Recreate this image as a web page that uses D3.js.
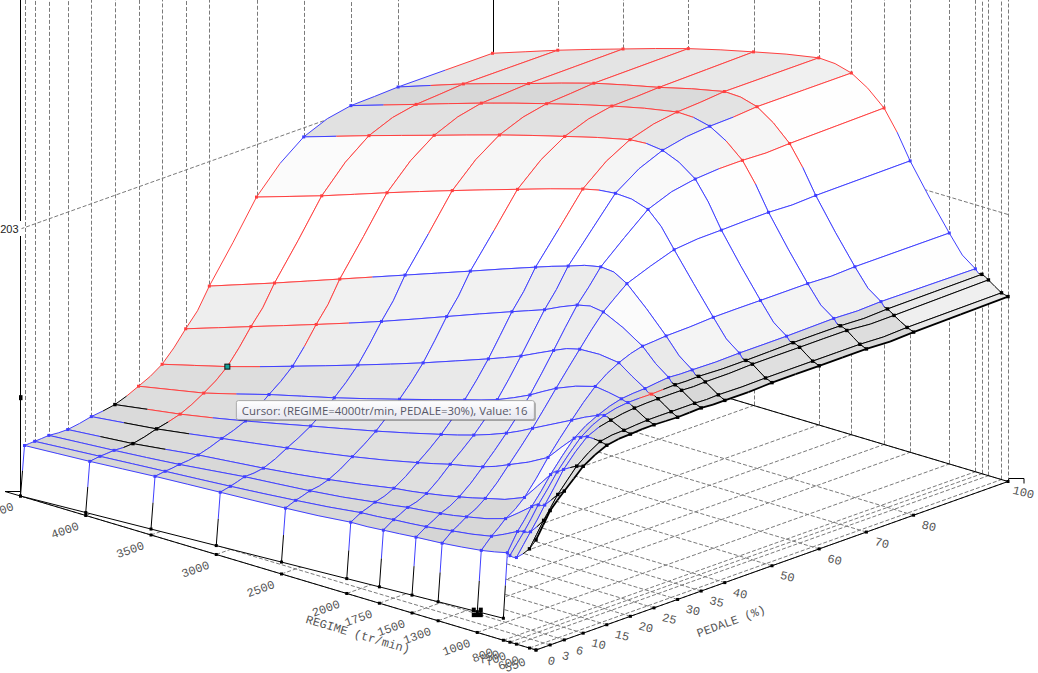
<!DOCTYPE html>
<html><head><meta charset="utf-8">
<style>html,body{margin:0;padding:0;background:#fff;overflow:hidden}svg{display:block}</style>
<script src="https://cdn.jsdelivr.net/npm/d3@7"></script></head><body>
<svg id="c" width="1038" height="673"></svg>
<script>
const regime=[4500,4000,3500,3000,2500,2000,1750,1500,1300,1000,800,750,700,600,550];
const pedale=[0,3,6,10,15,20,25,30,35,40,50,60,70,80,100];
const valueP0  =[-37,-33,-28,-24,-20,-14,-12,-9,-7,-2,4,3,3,17,29];
const valueP3  =[-38,-33,-28,-23,-17,-9,-6,-3,1,8,22,24,26,43,56];
const valueP6  =[-37,-32,-26,-18,-12,-3,2,6,11,22,44,48,50,66,72];
const valueP10 =[-38,-32,-23,-16,-7,5,10,17,24,38,72,77,82,90,92];
const valueP15 =[-33,-25,-14,-3,9,24,33,41,52,73,103,106,109,108,106];
const valueP20 =[-29,-18,-4,12,28,46,56,69,83,105,119,121,118,111,109];
const valueP25 =[-18,-4,16,34,54,75,86,102,118,133,128,126,122,113,110];
const valueP30 =[-3,16,38,61,85,111,125,142,152,150,130,126,123,113,109];
const valueP35 =[27,51,75,100,127,154,167,183,184,159,133,127,123,113,110];
const valueP40 =[65,90,116,142,168,194,206,216,206,161,132,127,123,113,109];
const valueP50 =[145,168,193,217,240,262,268,261,225,163,132,126,124,113,110];
const valueP60 =[193,216,238,260,280,298,297,276,228,163,132,127,124,113,110];
const valueP70 =[209,232,255,276,295,310,305,278,229,163,133,127,124,113,110];
const valueP80 =[211,236,258,280,297,314,308,278,229,163,133,127,122,113,110];
const valueP100=[211,236,259,281,299,314,308,280,230,163,132,128,124,114,112];
const values=[valueP0,valueP3,valueP6,valueP10,valueP15,valueP20,valueP25,valueP30,valueP35,valueP40,valueP50,valueP60,valueP70,valueP80,valueP100];
// b = blue, r = red, k = black: status of each table cell
const statusRows=[
"bbbbbbbbbbbbbkk","bbbbbbbbbbbbbkk","bbbbbbbbbbbbbkk","bkbbbbbbbbbbbkk","bkbbbbbbbbbbbkk",
"krbbbbbbbbbbkkk","rrbbbbbbbbbbkkk","rrbbbbbbbbbrkkk","rrrbbbbbbbbkkkk","rrrbbbbbbbbkkkk",
"rrrrrrbbbbbkkkk","brrrrrbbbbbkkkk","brrrrrbrbbbkkkk","brrrrrrrbbbkkkk","rrrrrrrrbbbkkkk"];
const zTickLabel=203, cursorRegime=4000, cursorPedale=30, cursorValue=16, gridMarkRegime=1000;
const tooltipText="Cursor: (REGIME=4000tr/min, PEDALE=30%), Value: 16";
const titleRegime="REGIME (tr/min)", titlePedale="PEDALE (%)";

const colors={b:"#4040ff",r:"#ff4040",k:"#000"};
const svg=d3.select("#c");
const xRpm=d3.scaleLinear([4500,550],[20.5,536]);
const xPed=d3.scaleLinear([0,100],[0,472]);
const yRpm=d3.scaleLinear([4500,550],[496,650]);
const yPed=d3.scaleLinear([0,100],[0,168.5]);
const zs=d3.scaleLinear([-93,203],[0,267]);
const wallRise=d3.scaleLinear([4500,800],[0,22]);
const fx=(r,p)=>xRpm(r)+xPed(p), fy=(r,p)=>yRpm(r)-yPed(p);
const nR=regime.length,nP=pedale.length;
const P=pedale.map((p,j)=>regime.map((r,i)=>({
  x:fx(r,p)+(p===0&&r>=800?4:0), y:fy(r,p)-zs(values[j][i]), c:statusRows[j][i]
})));
const line=(g,a,b,col,w,dash)=>g.append("line").attr("x1",a[0]).attr("y1",a[1]).attr("x2",b[0]).attr("y2",b[1])
  .attr("stroke",col).attr("stroke-width",w||1).attr("stroke-dasharray",dash||null);
const DASH="4 2", GR="#7a7a7a";

// background floor grid, walls of the box, verticals
const bg=svg.append("g");
regime.forEach(r=>line(bg,[fx(r,0),fy(r,0)],[fx(r,100),fy(r,100)],GR,1,DASH));
pedale.forEach(p=>line(bg,[fx(4500,p),fy(4500,p)],[fx(550,p),fy(550,p)],GR,1,DASH));
pedale.forEach((p,j)=>{const X=Math.round(P[j][0].x)+.5;
  bg.append("line").attr("x1",X).attr("x2",X).attr("y1",fy(4500,p)).attr("y2",0).attr("stroke",GR).attr("stroke-dasharray",DASH)});
regime.forEach((r,i)=>{if(i===0)return;const X=Math.round(P[nP-1][i].x)+.5;
  bg.append("line").attr("x1",X).attr("x2",X).attr("y1",fy(r,100)).attr("y2",0).attr("stroke",GR).attr("stroke-dasharray",DASH)});
// z level at the labelled tick
const zl=zs(zTickLabel);
line(bg,[fx(4500,0),fy(4500,0)-zl],[fx(4500,100),fy(4500,100)-zl],GR,1,DASH);
line(bg,[fx(4500,100),fy(4500,100)-zl],[fx(550,100),fy(550,100)-zl],GR,1,DASH);
// solid box edges
line(bg,[fx(4500,100),fy(4500,100)],[fx(550,100),fy(550,100)],"#000");
line(bg,[fx(4500,100),fy(4500,100)],[fx(4500,0),fy(4500,0)],"#000");
bg.append("line").attr("x1",20.5).attr("x2",20.5).attr("y1",0).attr("y2",496).attr("stroke","#000");
bg.append("line").attr("x1",493.5).attr("x2",493.5).attr("y1",0).attr("y2",fy(4500,100)).attr("stroke","#000");

// axes on the floor
const ax=svg.append("g");
line(ax,[fx(4500,0),fy(4500,0)],[fx(550,0),fy(550,0)],"#000");
line(ax,[fx(550,0),fy(550,0)],[fx(550,100),fy(550,100)],"#000");
ax.append("path").attr("d",`M${fx(4500,0)} ${fy(4500,0)}L5 ${fy(4500,0)-4.5}H${fx(4500,0)}`).attr("fill","none").attr("stroke","#000");
ax.append("path").attr("d",`M${fx(550,100)} ${fy(550,100)}L${fx(550,100)+1} ${fy(550,100)-3}H${fx(550,100)+16}v5`).attr("fill","none").attr("stroke","#000");
const sq=(g,x,y,s,col)=>g.append("rect").attr("x",x-s/2).attr("y",y-s/2).attr("width",s).attr("height",s).attr("fill",col);
regime.forEach(r=>sq(ax,fx(r,0),fy(r,0),3,"#000"));
pedale.forEach(p=>sq(ax,fx(550,p),fy(550,p),3,"#000"));

// front wall (pedal 0, down to the base line)
const wall=svg.append("g");
const wallIdx=d3.range(nR).filter(i=>regime[i]>=800);
const base=i=>[xRpm(regime[i]),fy(regime[i],0)-wallRise(regime[i])];
wall.append("path").attr("d",d3.line()(wallIdx.map(i=>[P[0][i].x,P[0][i].y]).concat(wallIdx.slice().reverse().map(base)))).attr("fill","#fff");
line(wall,base(0),base(wallIdx[wallIdx.length-1]),"#000");
wallIdx.forEach(i=>{const t=[P[0][i].x,P[0][i].y],b=base(i),m=[(t[0]+b[0])/2,(t[1]+b[1])/2];
  line(wall,t,m,colors[P[0][i].c]);line(wall,m,b,"#000");sq(wall,b[0],b[1],3,"#000")});

// surface
const midR=(j,i)=>{ // between columns i,i+1 on row j
  const a=P[j][i],b=P[j][i+1],a0=P[j][Math.max(i-1,0)],b1=P[j][Math.min(i+2,nR-1)];
  return [(a.x+b.x)/2,(a.y+b.y)/2+(a.y+b.y-a0.y-b1.y)/16*(i>0&&i<nR-2?1:0)];};
const midP=(j,i)=>{ // between rows j,j+1 on column i
  const a=P[j][i],b=P[j+1][i],a0=P[Math.max(j-1,0)][i],b1=P[Math.min(j+2,nP-1)][i];
  return [(a.x+b.x)/2,(a.y+b.y)/2+(a.y+b.y-a0.y-b1.y)/16*(j>0&&j<nP-2?1:0)];};
const shade=d3.scaleLinear([16,22,31,37,46,60,72],[213,216,223,230,238,250,255]).clamp(true);
const surf=svg.append("g");
const half=(a,m,b,w)=>{line(surf,[a.x,a.y],m,colors[a.c],w);line(surf,m,[b.x,b.y],colors[b.c],w)};
for(let j=nP-2;j>=0;j--)for(let i=0;i<nR-1;i++){
  const A=P[j][i],B=P[j][i+1],C=P[j+1][i+1],D=P[j+1][i];
  const dP=(Math.abs(D.y-A.y)+Math.abs(C.y-B.y))/2, dR=(Math.abs(B.y-A.y)+Math.abs(C.y-D.y))/2;
  const g=Math.round(shade(dP+dR));
  const m1=midR(j,i),m2=midP(j,i+1),m3=midR(j+1,i),m4=midP(j,i);
  surf.append("path").attr("d",d3.line()([[A.x,A.y],m1,[B.x,B.y],m2,[C.x,C.y],m3,[D.x,D.y],m4])+"Z")
    .attr("fill",`rgb(${g},${g},${g})`).attr("stroke",`rgb(${g},${g},${g})`).attr("stroke-width",.4);
  half(A,m1,B);half(D,m3,C);half(A,m4,D);half(B,m2,C,i===nR-2?1.8:1);
}
for(let j=0;j<nP;j++)for(let i=0;i<nR;i++)sq(surf,P[j][i].x,P[j][i].y,P[j][i].c==="k"?3.4:3,colors[P[j][i].c]);

// cursor
const cj=pedale.indexOf(cursorPedale),ci=regime.indexOf(cursorRegime);
surf.append("rect").attr("x",P[cj][ci].x-2.5).attr("y",P[cj][ci].y-2.5).attr("width",5).attr("height",5)
  .attr("fill","#12a39a").attr("stroke","#111").attr("stroke-width",1);
const zc=fy(4500,0)-zs(cursorValue);
svg.append("rect").attr("x",19).attr("y",zc-2.5).attr("width",1.5).attr("height",5).attr("fill","#000");
svg.append("rect").attr("x",21).attr("y",zc-2.5).attr("width",1.5).attr("height",5).attr("fill","#000");
// selection handle on the wall base
const hi=regime.indexOf(gridMarkRegime),hb=base(hi);
[[-5.5,-4,4,4.5],[1.5,-4,4,4.5],[-5.5,1,11,4.5]].forEach(d=>svg.append("rect").attr("x",hb[0]+d[0]).attr("y",hb[1]+d[1]).attr("width",d[2]).attr("height",d[3]).attr("fill","#000"));

// labels
const mono='"Liberation Mono","DejaVu Sans Mono",monospace';
const lab=svg.append("g").attr("font-family",mono).attr("font-size",12).attr("fill","#555").attr("text-anchor","middle");
const rot=(x,y,a,t)=>lab.append("text").attr("transform",`translate(${x},${y}) rotate(${a})`).attr("dy","0.35em").text(t);
regime.forEach(r=>rot(fx(r,0)-21,fy(r,0)+14.5,-20,r));
pedale.forEach(p=>rot(fx(550,p)+15.5,fy(550,p)+10.5,14,p));
rot(358,634,16.5,titleRegime);
rot(731,621,-20,titlePedale);
svg.append("rect").attr("x",0).attr("y",fy(4500,0)-zl-8).attr("width",21.5).attr("height",15).attr("fill","#fff");
svg.append("text").attr("x",18.5).attr("y",fy(4500,0)-zl+.5).attr("dy","0.35em").attr("text-anchor","end")
  .attr("font-family",'"Liberation Sans",sans-serif').attr("font-size",11).attr("fill","#222").text(zTickLabel);

// tooltip
const defs=svg.append("defs");
const lg=defs.append("linearGradient").attr("id","tt").attr("x1",0).attr("x2",0).attr("y1",0).attr("y2",1);
lg.append("stop").attr("offset",0).attr("stop-color","#ffffff");
lg.append("stop").attr("offset",1).attr("stop-color","#e6e6ef");
const tip=svg.append("g").attr("transform",`translate(${P[cj][ci].x+9},${P[cj][ci].y+34})`);
tip.append("rect").attr("x",1.5).attr("y",1.5).attr("width",298).attr("height",19).attr("rx",2).attr("fill","#000").attr("opacity",.3);
tip.append("rect").attr("x",0).attr("y",0).attr("width",298).attr("height",19).attr("rx",2).attr("fill","url(#tt)").attr("stroke","#a8a8a8");
tip.append("text").attr("x",5.5).attr("y",14).attr("font-family",'"Open Sans",sans-serif').attr("font-size",11.4).attr("fill","#575767").text(tooltipText);
</script></body></html>
